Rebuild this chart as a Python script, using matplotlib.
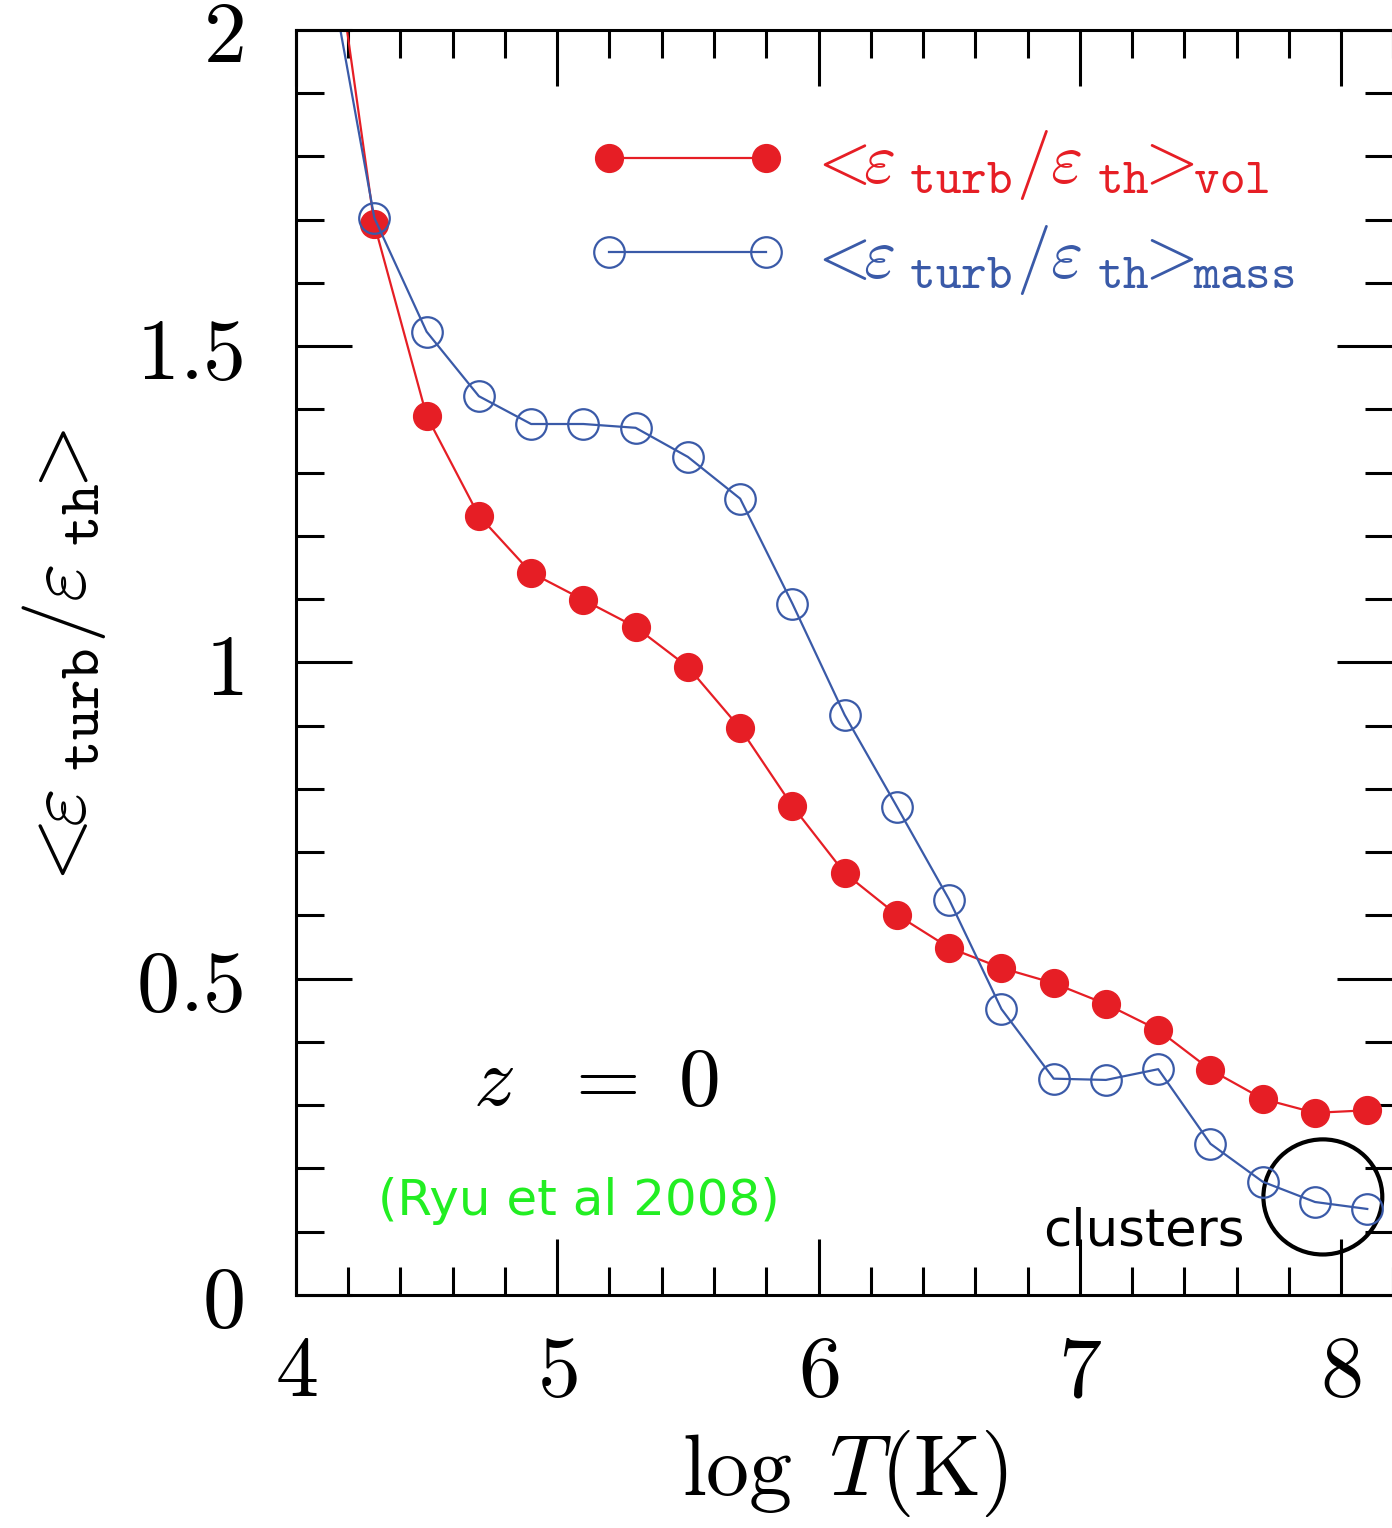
import matplotlib
matplotlib.use('Agg')
import matplotlib.pyplot as plt
from matplotlib.patches import Ellipse
from matplotlib.ticker import MultipleLocator

plt.rcParams['mathtext.fontset'] = 'cm'

# log T values (bins) and the two averages
log_t = [4.1, 4.3, 4.5, 4.7, 4.9, 5.1, 5.3, 5.5, 5.7, 5.9, 6.1,
         6.3, 6.5, 6.7, 6.9, 7.1, 7.3, 7.5, 7.7, 7.9, 8.1]
ratio_vol = [2.28, 1.693, 1.390, 1.232, 1.142, 1.099, 1.056, 0.993, 0.896, 0.773, 0.667,
             0.601, 0.549, 0.517, 0.493, 0.460, 0.419, 0.356, 0.310, 0.288, 0.292]
ratio_mass = [2.16, 1.703, 1.523, 1.421, 1.377, 1.377, 1.371, 1.325, 1.259, 1.093, 0.917,
              0.772, 0.625, 0.452, 0.342, 0.340, 0.357, 0.239, 0.179, 0.147, 0.136]

xticks = [4, 5, 6, 7, 8]
yticks = [0, 0.5, 1, 1.5, 2]
ytick_labels = ['$0$', '$0.5$', '$1$', '$1.5$', '$2$']

red = '#e61e25'
blue = '#3a5aa8'

ratio_tex = r'<\!\!\varepsilon_{\ \mathtt{turb}}/\varepsilon_{\ \mathtt{th}}\!\!>'

fig = plt.figure(figsize=(13.92, 15.28), dpi=100)
ax = fig.add_axes([0.2126, 0.1525, 0.7884, 0.8279])

ax.plot(log_t, ratio_vol, '-o', color=red, lw=1.6, ms=20, mfc=red, mec=red,
        label='$' + ratio_tex + r'\!\!{}_{\mathtt{vol}}$')
ax.plot(log_t, ratio_mass, '-o', color=blue, lw=1.6, ms=22, mfc='none', mec=blue, mew=1.6,
        label='$' + ratio_tex + r'\!\!{}_{\mathtt{mass}}$')

ax.set_xlim(4, 8.2)
ax.set_ylim(0, 2)
ax.set_xticks(xticks, labels=['$%d$' % v for v in xticks])
ax.set_yticks(yticks, labels=ytick_labels)
ax.xaxis.set_minor_locator(MultipleLocator(0.2))
ax.yaxis.set_minor_locator(MultipleLocator(0.1))
ax.tick_params(which='both', direction='in', top=True, right=True, width=2.2, labelsize=62)
ax.tick_params(which='major', length=40)
ax.tick_params(which='minor', length=20)
ax.tick_params(axis='y', pad=38)
ax.tick_params(axis='x', pad=26)
for s in ax.spines.values():
    s.set_linewidth(2.2)

ax.set_xlabel(r'$\log\ T(\mathrm{K})$', fontsize=62, labelpad=10)
ax.set_ylabel('$' + ratio_tex + '$', fontsize=60, labelpad=20)

leg = ax.legend(loc='upper left', bbox_to_anchor=(0.2097, 0.972), frameon=False, fontsize=50,
                handlelength=2.86, handletextpad=0.25, numpoints=2, labelspacing=0.3)
for txt, c in zip(leg.get_texts(), [red, blue]):
    txt.set_color(c)

ax.text(4.677, 0.30, r'$z\ \ =\ 0$', fontsize=60)
ax.text(4.314, 0.126, '(Ryu et al 2008)', fontsize=36, color='#22ee22')
ax.text(6.859, 0.079, 'clusters', fontsize=37, color='black')
ax.add_patch(Ellipse((7.93, 0.155), 0.455, 0.182, fill=False, lw=3, ec='black', clip_on=False))

fig.savefig('out.png', dpi=100)
